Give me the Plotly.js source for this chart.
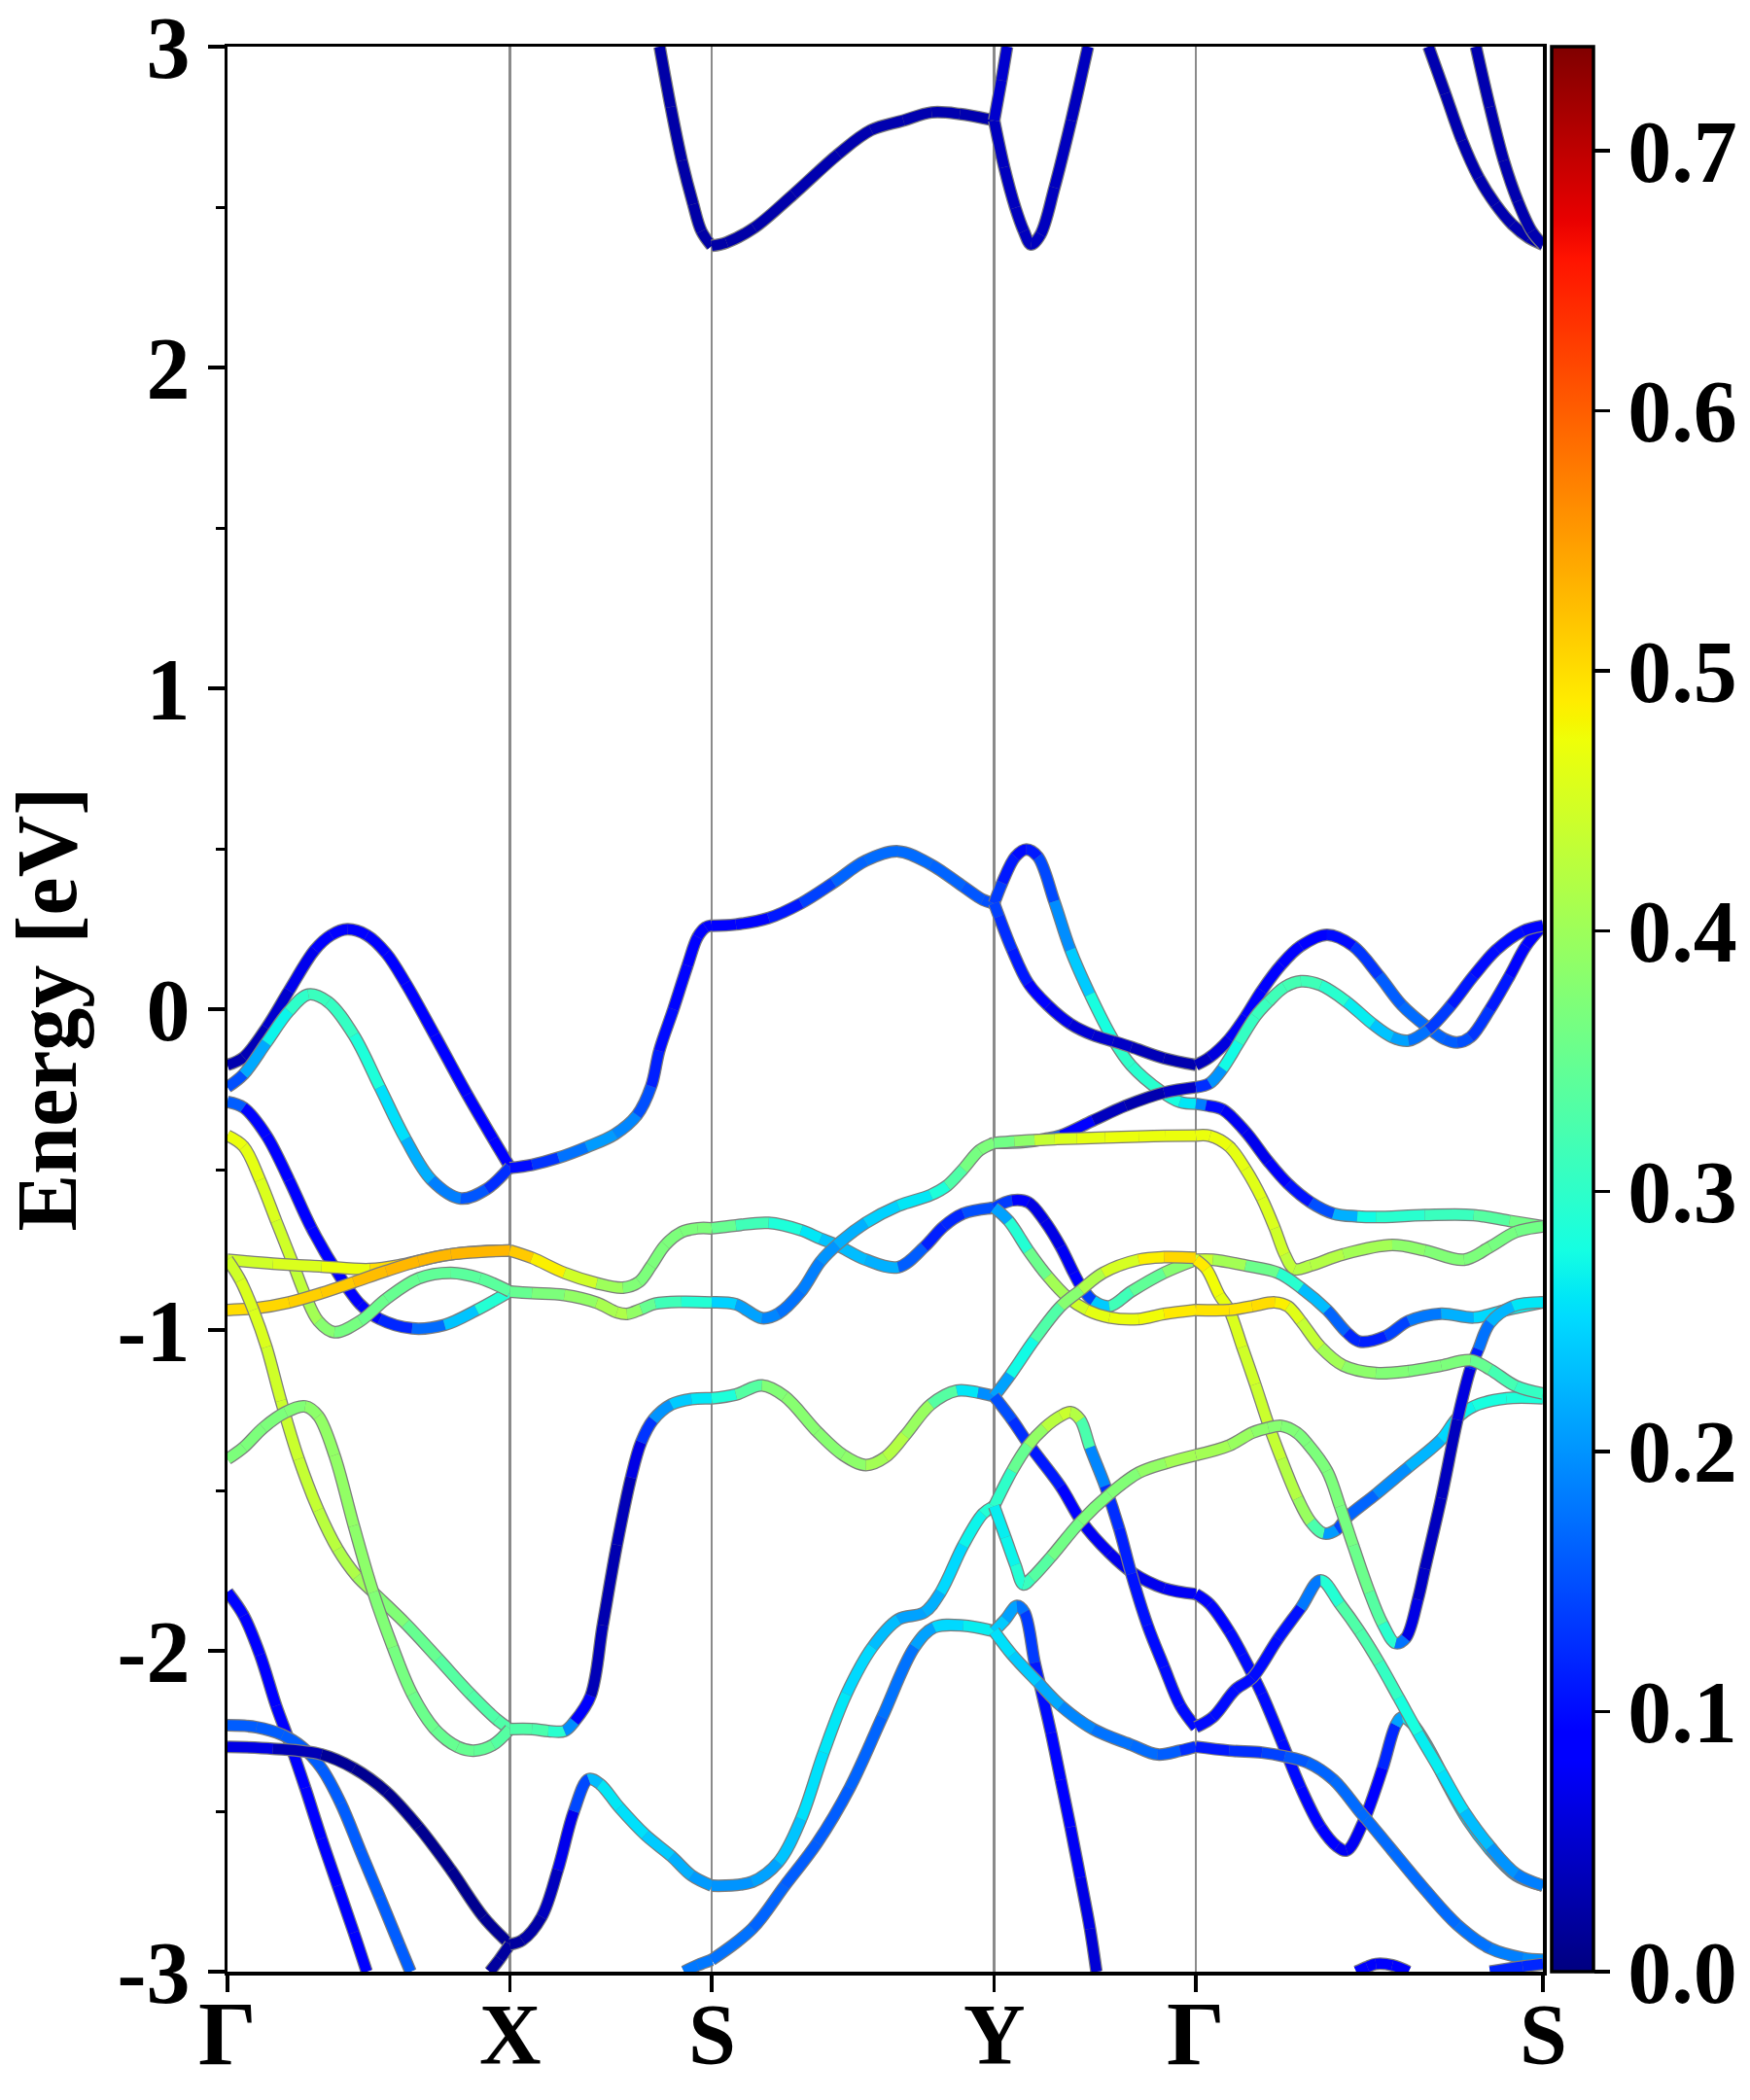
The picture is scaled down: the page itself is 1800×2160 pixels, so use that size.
<!DOCTYPE html>
<html><head><meta charset="utf-8">
<script src="https://cdn.plot.ly/plotly-3.0.1.min.js"></script>
<style>html,body{margin:0;padding:0;background:#fff;}#chart{width:1800px;height:2160px;}</style>
</head><body><div id="chart"></div>
<script>
// ---------- high-symmetry path ----------
const kTicks = [0, 1.4, 2.4, 3.8, 4.8, 6.52];
const kLabels = ['Γ', 'X', 'S', 'Y', 'Γ', 'S'];
const eTicks = [-3, -2, -1, 0, 1, 2, 3];
const eTickText = ['-3', '-2', '-1', '0', '1', '2', '3'];
const eMinorTicks = [-2.5, -1.5, -0.5, 0.5, 1.5, 2.5];
const cbTicks = [0, 0.1, 0.2, 0.3, 0.4, 0.5, 0.6, 0.7];
const cbTickText = ['0.0', '0.1', '0.2', '0.3', '0.4', '0.5', '0.6', '0.7'];
const wMax = 0.74;

// ---------- Γ–X ----------
const gxA_k = [0, 0.08, 0.193, 0.305, 0.433, 0.514, 0.594, 0.69, 0.787, 0.883, 1.027, 1.188, 1.317, 1.4];
const gxA_E = [-0.174, -0.15, -0.058, 0.058, 0.185, 0.231, 0.249, 0.231, 0.174, 0.081, -0.081, -0.266, -0.405, -0.492];
const gxA_w = [0.03, 0.03, 0.04, 0.06, 0.08, 0.09, 0.09, 0.09, 0.09, 0.09, 0.09, 0.09, 0.09, 0.09];
const gxB_k = [0, 0.08, 0.193, 0.305, 0.401, 0.498, 0.626, 0.755, 0.883, 1.011, 1.156, 1.284, 1.4];
const gxB_E = [-0.243, -0.203, -0.104, -0.006, 0.046, 0.023, -0.081, -0.243, -0.405, -0.532, -0.59, -0.561, -0.492];
const gxB_w = [0.12, 0.18, 0.25, 0.29, 0.31, 0.31, 0.3, 0.27, 0.24, 0.2, 0.17, 0.14, 0.11];
const gxC_k = [0, 0.08, 0.193, 0.305, 0.417, 0.546, 0.658, 0.755, 0.915, 1.076, 1.236, 1.4];
const gxC_E = [-0.289, -0.307, -0.394, -0.532, -0.683, -0.822, -0.92, -0.966, -0.995, -0.984, -0.9375, -0.88];
const gxC_w = [0.22, 0.1, 0.09, 0.09, 0.09, 0.09, 0.09, 0.1, 0.14, 0.2, 0.27, 0.31];
const gxD_k = [0, 0.08, 0.161, 0.241, 0.321, 0.385, 0.45, 0.53, 0.658, 0.787, 0.947, 1.108, 1.252, 1.4];
const gxD_E = [-0.394, -0.428, -0.532, -0.66, -0.787, -0.891, -0.972, -1.007, -0.972, -0.903, -0.839, -0.822, -0.839, -0.88];
const gxD_w = [0.47, 0.47, 0.46, 0.45, 0.44, 0.42, 0.39, 0.37, 0.36, 0.35, 0.35, 0.34, 0.34, 0.34];
const gxE_k = [0, 0.225, 0.466, 0.706, 0.867, 1.027, 1.188, 1.4];
const gxE_E = [-0.781, -0.793, -0.802, -0.81, -0.796, -0.773, -0.758, -0.752];
const gxE_w = [0.44, 0.45, 0.46, 0.48, 0.52, 0.53, 0.53, 0.53];
const gxF_k = [0, 0.144, 0.305, 0.466, 0.626, 0.787, 0.947, 1.108, 1.4];
const gxF_E = [-0.9375, -0.932, -0.914, -0.885, -0.851, -0.816, -0.785, -0.764, -0.752];
const gxF_w = [0.5, 0.5, 0.51, 0.51, 0.52, 0.53, 0.53, 0.53, 0.53];
const gxG_k = [0, 0.064, 0.128, 0.193, 0.265, 0.353, 0.45, 0.546, 0.642, 0.722, 0.883, 1.044, 1.204, 1.333, 1.4];
const gxG_E = [-0.781, -0.845, -0.9375, -1.053, -1.22, -1.402, -1.561, -1.683, -1.768, -1.817, -1.915, -2.024, -2.134, -2.213, -2.244];
const gxG_w = [0.44, 0.45, 0.46, 0.45, 0.44, 0.44, 0.43, 0.42, 0.41, 0.39, 0.36, 0.34, 0.33, 0.33, 0.33];
const gxH_k = [0, 0.08, 0.177, 0.289, 0.385, 0.45, 0.53, 0.626, 0.722, 0.819, 0.915, 1.028, 1.14, 1.22, 1.316, 1.4];
const gxH_E = [-1.402, -1.366, -1.305, -1.256, -1.238, -1.268, -1.39, -1.61, -1.817, -1.988, -2.134, -2.244, -2.299, -2.311, -2.293, -2.244];
const gxH_w = [0.37, 0.37, 0.37, 0.37, 0.38, 0.39, 0.39, 0.39, 0.38, 0.37, 0.36, 0.35, 0.35, 0.35, 0.34, 0.33];
const gxI_k = [0, 0.08, 0.161, 0.241, 0.305, 0.385, 0.466, 0.546, 0.626, 0.69];
const gxI_E = [-1.817, -1.89, -2.012, -2.171, -2.28, -2.427, -2.585, -2.732, -2.878, -3.0];
const gxI_w = [0.1, 0.09, 0.09, 0.09, 0.09, 0.09, 0.09, 0.09, 0.09, 0.09];
const gxJ_k = [0, 0.144, 0.273, 0.369, 0.466, 0.562, 0.658, 0.755, 0.851, 0.907];
const gxJ_E = [-2.232, -2.238, -2.262, -2.299, -2.366, -2.476, -2.622, -2.768, -2.915, -3.0];
const gxJ_w = [0.16, 0.16, 0.16, 0.16, 0.16, 0.16, 0.16, 0.16, 0.16, 0.16];
const gxK_k = [0, 0.225, 0.466, 0.626, 0.787, 0.947, 1.108, 1.268, 1.4];
const gxK_E = [-2.299, -2.305, -2.323, -2.366, -2.439, -2.549, -2.683, -2.829, -2.915];
const gxK_w = [0.08, 0.05, 0.02, 0.01, 0.01, 0.01, 0.01, 0.01, 0.02];
const gxL_k = [1.3, 1.35, 1.4];
const gxL_E = [-3.0, -2.96, -2.915];
const gxL_w = [0.02, 0.02, 0.02];

// ---------- X–S ----------
const xsC1_k = [2.142, 2.197, 2.252, 2.308, 2.349, 2.4];
const xsC1_E = [3.0, 2.812, 2.645, 2.509, 2.425, 2.379];
const xsC1_w = [0.025, 0.025, 0.025, 0.025, 0.025, 0.025];
const xsM_k = [1.4, 1.51, 1.64, 1.78, 1.92, 2.03, 2.10, 2.14, 2.21, 2.28, 2.33, 2.37, 2.4];
const xsM_E = [-0.495, -0.485, -0.463, -0.43, -0.39, -0.33, -0.24, -0.13, 0.0, 0.136, 0.225, 0.255, 0.261];
const xsM_w = [0.09, 0.11, 0.15, 0.2, 0.21, 0.17, 0.13, 0.1, 0.1, 0.09, 0.09, 0.09, 0.09];
const xsN_k = [1.4, 1.509, 1.67, 1.83, 1.96, 2.04, 2.10, 2.17, 2.25, 2.33, 2.4];
const xsN_E = [-0.752, -0.775, -0.822, -0.854, -0.868, -0.85, -0.80, -0.735, -0.695, -0.683, -0.683];
const xsN_w = [0.53, 0.5, 0.47, 0.42, 0.38, 0.37, 0.37, 0.37, 0.37, 0.37, 0.37];
const xsO_k = [1.4, 1.509, 1.67, 1.83, 1.93, 1.98, 2.05, 2.12, 2.25, 2.4];
const xsO_E = [-0.88, -0.885, -0.891, -0.915, -0.945, -0.95, -0.935, -0.918, -0.912, -0.914];
const xsO_w = [0.34, 0.36, 0.38, 0.4, 0.42, 0.41, 0.37, 0.33, 0.3, 0.28];
const xsP_k = [1.4, 1.509, 1.59, 1.67, 1.72, 1.80, 1.86, 1.93, 2.0, 2.05, 2.11, 2.2, 2.3, 2.4];
const xsP_E = [-2.244, -2.244, -2.25, -2.25, -2.22, -2.14, -1.92, -1.67, -1.46, -1.35, -1.28, -1.232, -1.215, -1.213];
const xsP_w = [0.33, 0.33, 0.32, 0.27, 0.12, 0.04, 0.03, 0.03, 0.04, 0.09, 0.17, 0.23, 0.25, 0.27];
const xsQ_k = [1.4, 1.461, 1.557, 1.637, 1.717, 1.79, 1.846, 1.942, 2.07, 2.2, 2.3, 2.4];
const xsQ_E = [-2.915, -2.902, -2.829, -2.683, -2.5, -2.40, -2.415, -2.488, -2.573, -2.64, -2.70, -2.732];
const xsQ_w = [0.02, 0.02, 0.03, 0.05, 0.09, 0.2, 0.26, 0.26, 0.25, 0.23, 0.21, 0.2];
const xsR_k = [2.263, 2.33, 2.4];
const xsR_E = [-3.0, -2.98, -2.963];
const xsR_w = [0.18, 0.18, 0.18];

// ---------- S–Y ----------
const syC1_k = [2.4, 2.474, 2.61, 2.806, 3.027, 3.19, 3.35, 3.49, 3.63, 3.8];
const syC1_E = [2.379, 2.39, 2.435, 2.54, 2.665, 2.74, 2.77, 2.795, 2.79, 2.77];
const syC1_w = [0.025, 0.025, 0.025, 0.03, 0.03, 0.03, 0.03, 0.03, 0.03, 0.03];
const syS_k = [2.4, 2.52, 2.682, 2.843, 3.003, 3.164, 3.325, 3.486, 3.647, 3.744, 3.8];
const syS_E = [0.26, 0.264, 0.284, 0.33, 0.394, 0.463, 0.492, 0.451, 0.382, 0.341, 0.33];
const syS_w = [0.09, 0.09, 0.1, 0.12, 0.16, 0.17, 0.17, 0.17, 0.16, 0.15, 0.15];
const syN_k = [2.4, 2.52, 2.682, 2.843, 2.939, 3.02, 3.164, 3.325, 3.454, 3.55, 3.647, 3.8];
const syN_E = [-0.683, -0.674, -0.666, -0.689, -0.715, -0.735, -0.781, -0.804, -0.741, -0.677, -0.637, -0.619];
const syN_w = [0.37, 0.33, 0.3, 0.27, 0.25, 0.22, 0.24, 0.2, 0.12, 0.11, 0.13, 0.17];
const syO_k = [2.4, 2.52, 2.649, 2.73, 2.843, 2.939, 3.02, 3.164, 3.325, 3.486, 3.567, 3.647, 3.728, 3.8];
const syO_E = [-0.914, -0.92, -0.963, -0.949, -0.88, -0.787, -0.735, -0.666, -0.613, -0.579, -0.55, -0.498, -0.44, -0.417];
const syO_w = [0.27, 0.22, 0.2, 0.18, 0.17, 0.2, 0.2, 0.24, 0.25, 0.27, 0.3, 0.36, 0.37, 0.37];
const syP_k = [2.4, 2.52, 2.649, 2.762, 2.923, 3.052, 3.164, 3.261, 3.358, 3.486, 3.615, 3.72, 3.8];
const syP_E = [-1.213, -1.201, -1.173, -1.207, -1.317, -1.39, -1.421, -1.396, -1.329, -1.232, -1.189, -1.195, -1.207];
const syP_w = [0.27, 0.3, 0.37, 0.38, 0.38, 0.38, 0.39, 0.42, 0.42, 0.37, 0.3, 0.22, 0.17];
const syQ_k = [2.4, 2.601, 2.73, 2.843, 2.955, 3.068, 3.197, 3.325, 3.454, 3.535, 3.647, 3.744, 3.8];
const syQ_E = [-2.732, -2.72, -2.659, -2.524, -2.317, -2.134, -1.988, -1.902, -1.88, -1.817, -1.671, -1.573, -1.549];
const syQ_w = [0.2, 0.2, 0.22, 0.25, 0.26, 0.26, 0.24, 0.22, 0.2, 0.24, 0.26, 0.28, 0.3];
const syR_k = [2.4, 2.601, 2.762, 2.923, 3.084, 3.245, 3.406, 3.502, 3.647, 3.8];
const syR_E = [-2.963, -2.866, -2.732, -2.598, -2.427, -2.207, -1.988, -1.927, -1.921, -1.939];
const syR_w = [0.18, 0.17, 0.16, 0.16, 0.16, 0.17, 0.18, 0.24, 0.26, 0.27];

// ---------- Y–Γ ----------
const ygC1_k = [3.8, 3.85, 3.905, 3.947, 3.983, 4.03, 4.099, 4.182, 4.265];
const ygC1_E = [2.77, 2.624, 2.498, 2.425, 2.383, 2.415, 2.561, 2.77, 3.0];
const ygC1_w = [0.04, 0.04, 0.04, 0.04, 0.04, 0.04, 0.04, 0.04, 0.04];
const ygC2_k = [3.8, 3.836, 3.864];
const ygC2_E = [2.77, 2.895, 3.0];
const ygC2_w = [0.05, 0.05, 0.05];
const ygS1_k = [3.8, 3.84, 3.905, 3.96, 4.017, 4.098, 4.178, 4.275, 4.39, 4.48, 4.625, 4.72, 4.8];
const ygS1_E = [0.33, 0.394, 0.475, 0.498, 0.475, 0.336, 0.185, 0.046, -0.095, -0.176, -0.255, -0.289, -0.295];
const ygS1_w = [0.15, 0.12, 0.1, 0.1, 0.12, 0.17, 0.22, 0.26, 0.3, 0.3, 0.29, 0.27, 0.25];
const ygS2_k = [3.8, 3.824, 3.889, 3.969, 4.066, 4.178, 4.291, 4.39, 4.48, 4.642, 4.8];
const ygS2_E = [0.33, 0.289, 0.185, 0.081, 0.012, -0.046, -0.081, -0.1, -0.118, -0.153, -0.174];
const ygS2_w = [0.15, 0.13, 0.12, 0.1, 0.08, 0.06, 0.05, 0.05, 0.04, 0.03, 0.03];
const ygT_k = [3.8, 3.953, 4.05, 4.13, 4.291, 4.452, 4.642, 4.8];
const ygT_E = [-0.417, -0.414, -0.405, -0.394, -0.347, -0.301, -0.26, -0.243];
const ygT_w = [0.37, 0.3, 0.2, 0.12, 0.05, 0.03, 0.03, 0.06];
const ygU_k = [3.8, 3.9, 4.0, 4.1, 4.21, 4.35, 4.516, 4.65, 4.8];
const ygU_E = [-0.417, -0.412, -0.408, -0.405, -0.403, -0.4, -0.397, -0.395, -0.394];
const ygU_w = [0.37, 0.35, 0.42, 0.45, 0.46, 0.47, 0.47, 0.47, 0.47];
const ygV1_k = [3.8, 3.889, 3.969, 4.05, 4.13, 4.194, 4.235, 4.291, 4.371, 4.48, 4.642, 4.8];
const ygV1_E = [-0.619, -0.596, -0.602, -0.66, -0.741, -0.822, -0.868, -0.909, -0.926, -0.88, -0.822, -0.781];
const ygV1_w = [0.17, 0.1, 0.07, 0.06, 0.07, 0.08, 0.1, 0.18, 0.3, 0.33, 0.36, 0.4];
const ygV2_k = [3.8, 3.872, 3.969, 4.066, 4.162, 4.259, 4.371, 4.516, 4.642, 4.8];
const ygV2_E = [-0.619, -0.66, -0.752, -0.833, -0.897, -0.9375, -0.961, -0.966, -0.95, -0.9375];
const ygV2_w = [0.17, 0.25, 0.33, 0.38, 0.43, 0.46, 0.47, 0.47, 0.48, 0.5];
const ygW_k = [3.8, 3.88, 4.0, 4.13, 4.23, 4.34, 4.516, 4.642, 4.8];
const ygW_E = [-1.207, -1.14, -1.03, -0.926, -0.875, -0.822, -0.781, -0.773, -0.775];
const ygW_w = [0.17, 0.25, 0.3, 0.36, 0.4, 0.43, 0.47, 0.5, 0.51];
const ygX1_k = [3.8, 3.889, 3.969, 4.13, 4.235, 4.371, 4.484, 4.642, 4.8];
const ygX1_E = [-1.207, -1.28, -1.354, -1.488, -1.598, -1.695, -1.756, -1.805, -1.823];
const ygX1_w = [0.17, 0.13, 0.12, 0.1, 0.08, 0.07, 0.07, 0.07, 0.08];
const ygX2_k = [3.8, 3.889, 3.969, 4.05, 4.13, 4.178, 4.227, 4.275, 4.35, 4.42, 4.48, 4.56, 4.642, 4.722, 4.8];
const ygX2_E = [-1.549, -1.439, -1.36, -1.305, -1.268, -1.256, -1.28, -1.366, -1.486, -1.62, -1.76, -1.92, -2.05, -2.17, -2.238];
const ygX2_w = [0.27, 0.33, 0.37, 0.41, 0.44, 0.44, 0.4, 0.25, 0.13, 0.12, 0.11, 0.1, 0.1, 0.1, 0.1];
const ygX3_k = [3.8, 3.856, 3.905, 3.945, 3.985, 4.082, 4.227, 4.371, 4.516, 4.65, 4.8];
const ygX3_E = [-1.549, -1.646, -1.732, -1.793, -1.774, -1.707, -1.598, -1.512, -1.445, -1.415, -1.39];
const ygX3_w = [0.27, 0.26, 0.28, 0.3, 0.32, 0.35, 0.37, 0.37, 0.38, 0.4, 0.41];
const ygX4_k = [3.8, 3.856, 3.913, 3.95, 4.001, 4.033, 4.082, 4.13, 4.178, 4.227, 4.275, 4.307];
const ygX4_E = [-1.939, -1.902, -1.86, -1.88, -2.037, -2.122, -2.256, -2.402, -2.549, -2.707, -2.866, -3.0];
const ygX4_w = [0.26, 0.22, 0.2, 0.15, 0.12, 0.1, 0.1, 0.09, 0.08, 0.07, 0.06, 0.05];
const ygX5_k = [3.8, 3.889, 4.017, 4.13, 4.291, 4.48, 4.61, 4.722, 4.8];
const ygX5_E = [-1.939, -2.012, -2.098, -2.171, -2.244, -2.293, -2.323, -2.311, -2.299];
const ygX5_w = [0.26, 0.25, 0.23, 0.2, 0.18, 0.17, 0.17, 0.15, 0.1];

// ---------- Γ–S ----------
const gsA_k = [4.8, 4.868, 4.965, 5.046, 5.127, 5.224, 5.32, 5.45, 5.579, 5.708, 5.822, 5.951, 6.032, 6.096, 6.161, 6.258, 6.355, 6.436, 6.52];
const gsA_E = [-0.174, -0.15, -0.093, -0.023, 0.058, 0.139, 0.197, 0.232, 0.197, 0.104, 0.012, -0.058, -0.093, -0.104, -0.087, 0.0, 0.104, 0.197, 0.26];
const gsA_w = [0.03, 0.05, 0.07, 0.08, 0.09, 0.09, 0.09, 0.09, 0.11, 0.15, 0.17, 0.17, 0.16, 0.16, 0.14, 0.12, 0.1, 0.09, 0.09];
const gsB_k = [4.8, 4.868, 4.933, 5.013, 5.094, 5.159, 5.24, 5.32, 5.418, 5.547, 5.676, 5.773, 5.854, 5.951, 6.064, 6.177, 6.29, 6.42, 6.52];
const gsB_E = [-0.243, -0.231, -0.185, -0.104, -0.023, 0.023, 0.069, 0.087, 0.075, 0.023, -0.046, -0.087, -0.098, -0.064, 0.012, 0.104, 0.185, 0.243, 0.26];
const gsB_w = [0.1, 0.15, 0.25, 0.3, 0.31, 0.31, 0.32, 0.32, 0.31, 0.28, 0.25, 0.22, 0.2, 0.15, 0.12, 0.1, 0.1, 0.1, 0.09];
const gsC_k = [4.8, 4.85, 4.933, 5.046, 5.159, 5.256, 5.369, 5.482, 5.6, 5.692, 5.935, 6.177, 6.355, 6.52];
const gsC_E = [-0.295, -0.30, -0.313, -0.382, -0.475, -0.544, -0.602, -0.637, -0.646, -0.648, -0.642, -0.642, -0.66, -0.677];
const gsC_w = [0.25, 0.12, 0.08, 0.07, 0.07, 0.09, 0.12, 0.18, 0.26, 0.29, 0.3, 0.32, 0.35, 0.37];
const gsD_k = [4.8, 4.87, 4.965, 5.046, 5.127, 5.191, 5.24, 5.288, 5.369, 5.531, 5.773, 5.935, 6.129, 6.258, 6.387, 6.52];
const gsD_E = [-0.394, -0.395, -0.428, -0.498, -0.59, -0.683, -0.764, -0.81, -0.799, -0.764, -0.735, -0.752, -0.781, -0.741, -0.694, -0.677];
const gsD_w = [0.47, 0.47, 0.47, 0.46, 0.46, 0.45, 0.44, 0.42, 0.42, 0.42, 0.39, 0.38, 0.37, 0.37, 0.36, 0.36];
const gsG1_k = [4.8, 4.884, 5.046, 5.207, 5.32, 5.45, 5.547, 5.611, 5.741, 5.854, 6.016, 6.177, 6.339, 6.52];
const gsG1_E = [-0.781, -0.781, -0.799, -0.822, -0.868, -0.9375, -1.007, -1.036, -1.019, -0.972, -0.949, -0.961, -0.9375, -0.914];
const gsG1_w = [0.45, 0.43, 0.38, 0.33, 0.26, 0.2, 0.13, 0.11, 0.12, 0.16, 0.2, 0.24, 0.26, 0.27];
const gsG2_k = [4.8, 4.852, 4.916, 4.965, 5.03, 5.094, 5.159, 5.224, 5.304, 5.369, 5.434, 5.498, 5.547, 5.692, 5.854, 6.016, 6.096, 6.177, 6.339, 6.52];
const gsG2_E = [-0.781, -0.81, -0.891, -0.9375, -1.053, -1.169, -1.293, -1.402, -1.524, -1.598, -1.634, -1.622, -1.585, -1.512, -1.427, -1.341, -1.274, -1.238, -1.213, -1.213];
const gsG2_w = [0.5, 0.48, 0.47, 0.46, 0.45, 0.44, 0.44, 0.43, 0.41, 0.38, 0.27, 0.14, 0.15, 0.18, 0.21, 0.24, 0.26, 0.28, 0.28, 0.29];
const gsG3_k = [4.8, 4.965, 5.08, 5.159, 5.224, 5.30, 5.353, 5.45, 5.514, 5.579, 5.66, 5.725, 5.79, 5.84, 5.90, 5.935, 6.016, 6.096, 6.161, 6.2, 6.258, 6.371, 6.52];
const gsG3_E = [-1.39, -1.36, -1.32, -1.305, -1.299, -1.32, -1.354, -1.439, -1.549, -1.671, -1.817, -1.915, -1.976, -1.96, -1.84, -1.744, -1.524, -1.28, -1.12, -1.06, -0.978, -0.926, -0.914];
const gsG3_w = [0.41, 0.4, 0.39, 0.38, 0.38, 0.37, 0.37, 0.37, 0.37, 0.36, 0.35, 0.32, 0.27, 0.08, 0.05, 0.04, 0.04, 0.04, 0.08, 0.15, 0.2, 0.25, 0.27];
const gsG4_k = [4.8, 4.965, 5.078, 5.191, 5.256, 5.32, 5.418, 5.531, 5.692, 5.854, 6.016, 6.161, 6.258, 6.387, 6.52];
const gsG4_E = [-0.9375, -0.9375, -0.926, -0.914, -0.926, -0.972, -1.053, -1.111, -1.134, -1.128, -1.111, -1.094, -1.123, -1.175, -1.198];
const gsG4_w = [0.5, 0.49, 0.5, 0.5, 0.47, 0.45, 0.42, 0.39, 0.38, 0.37, 0.37, 0.37, 0.33, 0.31, 0.3];
const gsL1_k = [4.8, 4.868, 4.965, 5.03, 5.127, 5.224, 5.32, 5.418, 5.5, 5.547, 5.627, 5.725, 5.79, 5.822, 5.87, 5.95, 6.05, 6.15, 6.258, 6.387, 6.52];
const gsL1_E = [-1.823, -1.854, -1.939, -2.012, -2.134, -2.28, -2.427, -2.549, -2.61, -2.622, -2.537, -2.366, -2.232, -2.207, -2.225, -2.3, -2.42, -2.53, -2.62, -2.70, -2.732];
const gsL1_w = [0.08, 0.09, 0.1, 0.1, 0.1, 0.1, 0.1, 0.09, 0.08, 0.07, 0.08, 0.09, 0.15, 0.27, 0.26, 0.26, 0.26, 0.25, 0.22, 0.2, 0.18];
const gsL2_k = [4.8, 4.965, 5.127, 5.24, 5.353, 5.482, 5.611, 5.644, 5.773, 5.935, 6.096, 6.258, 6.42, 6.52];
const gsL2_E = [-2.299, -2.311, -2.317, -2.329, -2.348, -2.402, -2.5, -2.524, -2.622, -2.744, -2.854, -2.927, -2.957, -2.963];
const gsL2_w = [0.1, 0.12, 0.13, 0.15, 0.16, 0.17, 0.17, 0.17, 0.17, 0.17, 0.17, 0.18, 0.19, 0.2];
const gsL3_k = [4.8, 4.884, 4.997, 5.078, 5.207, 5.32, 5.418, 5.514, 5.611, 5.708, 5.805, 5.902, 6.016, 6.129, 6.258, 6.387, 6.52];
const gsL3_E = [-2.238, -2.207, -2.12, -2.085, -1.963, -1.866, -1.78, -1.854, -1.939, -2.037, -2.146, -2.256, -2.378, -2.5, -2.61, -2.695, -2.732];
const gsL3_w = [0.1, 0.1, 0.1, 0.1, 0.1, 0.11, 0.25, 0.33, 0.33, 0.32, 0.29, 0.27, 0.26, 0.25, 0.21, 0.19, 0.18];
const gsL4_k = [5.595, 5.65, 5.692, 5.773, 5.854];
const gsL4_E = [-3.0, -2.985, -2.976, -2.98, -3.0];
const gsL4_w = [0.08, 0.08, 0.08, 0.08, 0.08];
const gsL5_k = [6.258, 6.42, 6.52];
const gsL5_E = [-3.0, -2.984, -2.976];
const gsL5_w = [0.12, 0.12, 0.12];
const gsC3_k = [5.953, 6.036, 6.119, 6.202, 6.285, 6.368, 6.451, 6.52];
const gsC3_E = [3.0, 2.854, 2.707, 2.592, 2.509, 2.446, 2.404, 2.383];
const gsC3_w = [0.03, 0.03, 0.03, 0.03, 0.03, 0.03, 0.03, 0.03];
const gsC4_k = [6.188, 6.257, 6.326, 6.395, 6.464, 6.52];
const gsC4_E = [3.0, 2.812, 2.645, 2.519, 2.425, 2.383];
const gsC4_w = [0.03, 0.03, 0.03, 0.03, 0.03, 0.03];

// ---------- assemble ----------
const bands = [
  [gxA_k, gxA_E, gxA_w], [gxB_k, gxB_E, gxB_w], [gxC_k, gxC_E, gxC_w], [gxD_k, gxD_E, gxD_w],
  [gxE_k, gxE_E, gxE_w], [gxF_k, gxF_E, gxF_w], [gxG_k, gxG_E, gxG_w], [gxH_k, gxH_E, gxH_w],
  [gxI_k, gxI_E, gxI_w], [gxJ_k, gxJ_E, gxJ_w], [gxK_k, gxK_E, gxK_w], [gxL_k, gxL_E, gxL_w],
  [xsC1_k, xsC1_E, xsC1_w], [xsM_k, xsM_E, xsM_w], [xsN_k, xsN_E, xsN_w], [xsO_k, xsO_E, xsO_w],
  [xsP_k, xsP_E, xsP_w], [xsQ_k, xsQ_E, xsQ_w], [xsR_k, xsR_E, xsR_w],
  [syC1_k, syC1_E, syC1_w], [syS_k, syS_E, syS_w], [syN_k, syN_E, syN_w], [syO_k, syO_E, syO_w],
  [syP_k, syP_E, syP_w], [syQ_k, syQ_E, syQ_w], [syR_k, syR_E, syR_w],
  [ygC1_k, ygC1_E, ygC1_w], [ygC2_k, ygC2_E, ygC2_w], [ygS1_k, ygS1_E, ygS1_w], [ygS2_k, ygS2_E, ygS2_w],
  [ygT_k, ygT_E, ygT_w], [ygU_k, ygU_E, ygU_w], [ygV1_k, ygV1_E, ygV1_w], [ygV2_k, ygV2_E, ygV2_w],
  [ygW_k, ygW_E, ygW_w], [ygX1_k, ygX1_E, ygX1_w], [ygX2_k, ygX2_E, ygX2_w], [ygX3_k, ygX3_E, ygX3_w],
  [ygX4_k, ygX4_E, ygX4_w], [ygX5_k, ygX5_E, ygX5_w],
  [gsA_k, gsA_E, gsA_w], [gsB_k, gsB_E, gsB_w], [gsC_k, gsC_E, gsC_w], [gsD_k, gsD_E, gsD_w],
  [gsG1_k, gsG1_E, gsG1_w], [gsG2_k, gsG2_E, gsG2_w], [gsG3_k, gsG3_E, gsG3_w], [gsG4_k, gsG4_E, gsG4_w],
  [gsL1_k, gsL1_E, gsL1_w], [gsL2_k, gsL2_E, gsL2_w], [gsL3_k, gsL3_E, gsL3_w], [gsL4_k, gsL4_E, gsL4_w],
  [gsL5_k, gsL5_E, gsL5_w], [gsC3_k, gsC3_E, gsC3_w], [gsC4_k, gsC4_E, gsC4_w]
];

const jetScale = [
  [0, 'rgb(0,0,128)'], [0.11, 'rgb(0,0,255)'], [0.125, 'rgb(0,0,255)'], [0.34, 'rgb(0,219,255)'],
  [0.35, 'rgb(0,230,247)'], [0.375, 'rgb(21,255,226)'], [0.64, 'rgb(239,255,8)'], [0.65, 'rgb(247,245,0)'],
  [0.66, 'rgb(255,236,0)'], [0.89, 'rgb(255,19,0)'], [0.91, 'rgb(232,0,0)'], [1, 'rgb(128,0,0)']
];
function parseRgb(s) { return s.match(/\d+/g).map(Number); }
function jetColor(v) {
  const t = Math.max(0, Math.min(1, v / wMax));
  for (let i = 0; i < jetScale.length - 1; i++) {
    const [t0, c0] = jetScale[i], [t1, c1] = jetScale[i + 1];
    if (t >= t0 && t <= t1) {
      const f = t1 > t0 ? (t - t0) / (t1 - t0) : 0;
      const a = parseRgb(c0), b = parseRgb(c1);
      return 'rgb(' + a.map((x, j) => Math.round(x + (b[j] - x) * f)).join(',') + ')';
    }
  }
  return jetScale[jetScale.length - 1][1];
}

// ---------- geometry of the plot box (px) ----------
const mL = 234, mR = 213, mT = 48, mB = 132, W = 1800, H = 2160;
const sx = (W - mL - mR) / (kTicks[kTicks.length - 1] - kTicks[0]);
const sy = (H - mT - mB) / (eTicks[eTicks.length - 1] - eTicks[0]);

// Plotly's own spline tangent rule (centripetal Catmull-Rom), evaluated in screen-scaled units
function tangent(p0, p1, p2) {
  const d1x = p0[0] - p1[0], d1y = p0[1] - p1[1], d2x = p2[0] - p1[0], d2y = p2[1] - p1[1];
  const d1a = Math.pow(d1x * d1x + d1y * d1y, 0.25), d2a = Math.pow(d2x * d2x + d2y * d2y, 0.25);
  const nx = d2a * d2a * d1x - d1a * d1a * d2x, ny = d2a * d2a * d1y - d1a * d1a * d2y;
  const den1 = 3 * d2a * (d1a + d2a), den2 = 3 * d1a * (d1a + d2a);
  return [[p1[0] + (den1 && nx / den1), p1[1] + (den1 && ny / den1)],
          [p1[0] - (den2 && nx / den2), p1[1] - (den2 && ny / den2)]];
}
function bandSegments(k, E) {
  const P = k.map((v, i) => [v * sx, E[i] * sy]);
  const D = p => (p[0] / sx).toFixed(5) + ',' + (p[1] / sy).toFixed(5);
  const n = P.length, segs = [];
  if (n < 3) { segs.push({ start: D(P[0]), body: 'L' + D(P[1]) }); return segs; }
  const T = [];
  for (let i = 1; i < n - 1; i++) T.push(tangent(P[i - 1], P[i], P[i + 1]));
  segs.push({ start: D(P[0]), body: 'Q' + D(T[0][0]) + ' ' + D(P[1]) });
  for (let i = 1; i < n - 2; i++) segs.push({ start: D(P[i]), body: 'C' + D(T[i - 1][1]) + ' ' + D(T[i][0]) + ' ' + D(P[i + 1]) });
  segs.push({ start: D(P[n - 2]), body: 'Q' + D(T[n - 3][1]) + ' ' + D(P[n - 1]) });
  return segs;
}

const fontFam = 'Liberation Serif, Times New Roman, serif';
const lineW = 10.5, edgeW = 13;
const shapes = [];
bands.forEach(b => {
  const [k, E, w] = b;
  const segs = bandSegments(k, E);
  shapes.push({ type: 'path', xref: 'x', yref: 'y', layer: 'between', fillcolor: 'rgba(0,0,0,0)',
    path: 'M' + segs[0].start + segs.map(s => s.body).join(''), line: { color: '#7c7c7c', width: edgeW } });
  segs.forEach((s, i) => {
    shapes.push({ type: 'path', xref: 'x', yref: 'y', layer: 'between', fillcolor: 'rgba(0,0,0,0)',
      path: 'M' + s.start + s.body, line: { color: jetColor((w[i] + w[i + 1]) / 2), width: lineW } });
  });
});

// points carrying the weights (transparent) + colorbar through Plotly's colorscale
const px = [], py = [], pw = [];
bands.forEach(b => { px.push(...b[0]); py.push(...b[1]); pw.push(...b[2]); });
const traces = [{
  x: px, y: py, mode: 'markers', hoverinfo: 'skip', showlegend: false,
  marker: {
    color: pw, colorscale: jetScale, cmin: 0, cmax: wMax, size: 4, opacity: 0, line: { width: 0 },
    showscale: true,
    colorbar: {
      x: 1.0066, xanchor: 'left', y: 0.5, yanchor: 'middle', len: 1, lenmode: 'fraction',
      thickness: 43, thicknessmode: 'pixels', xpad: 0, ypad: 0,
      outlinewidth: 3.5, outlinecolor: '#000',
      tickmode: 'array', tickvals: cbTicks, ticktext: cbTickText,
      ticks: 'outside', ticklen: 16, tickwidth: 3.5, tickcolor: '#000',
      tickfont: { family: fontFam, size: 90, color: '#000', weight: 700 }
    }
  }
}];

const annotations = kTicks.map((k, i) => ({
  x: k, xref: 'x', y: 0, yref: 'paper', yanchor: 'top', xanchor: 'center', yshift: kLabels[i] === 'Γ' ? -9 : -14,
  text: kLabels[i], showarrow: false,
  font: { family: fontFam, size: kLabels[i] === 'Γ' ? 94 : 88, color: '#000', weight: 700 }
}));

const layout = {
  width: W, height: H,
  margin: { l: mL, r: mR, t: mT, b: mB, autoexpand: false },
  paper_bgcolor: '#fff', plot_bgcolor: '#fff', showlegend: false,
  font: { family: fontFam, size: 88, color: '#000', weight: 700 },
  shapes: shapes, annotations: annotations,
  xaxis: {
    range: [kTicks[0], kTicks[kTicks.length - 1]], tickmode: 'array', tickvals: kTicks, showticklabels: false,
    ticks: 'outside', ticklen: 17, tickwidth: 3.5, tickcolor: '#000',
    showline: true, linecolor: '#000', linewidth: 3.5, mirror: true,
    showgrid: true, gridcolor: '#8a8a8a', gridwidth: 2.5, zeroline: false,
    automargin: false, fixedrange: true
  },
  yaxis: {
    range: [-3, 3], tickmode: 'array', tickvals: eTicks, ticktext: eTickText,
    ticks: 'outside', ticklen: 17, tickwidth: 3.5, tickcolor: '#000',
    minor: { tickmode: 'array', tickvals: eMinorTicks, ticks: 'outside', ticklen: 9, tickwidth: 3, tickcolor: '#000', showgrid: false },
    showline: true, linecolor: '#000', linewidth: 3.5, mirror: true,
    showgrid: false, zeroline: false, ticklabeloverflow: 'allow',
    tickfont: { family: fontFam, size: 90, color: '#000', weight: 700 },
    title: { text: 'Energy [eV]', font: { family: fontFam, size: 88, color: '#000', weight: 700 }, standoff: 28 },
    automargin: false, fixedrange: true
  }
};

Plotly.newPlot('chart', traces, layout, { displayModeBar: false, staticPlot: true });
</script>
</body></html>
